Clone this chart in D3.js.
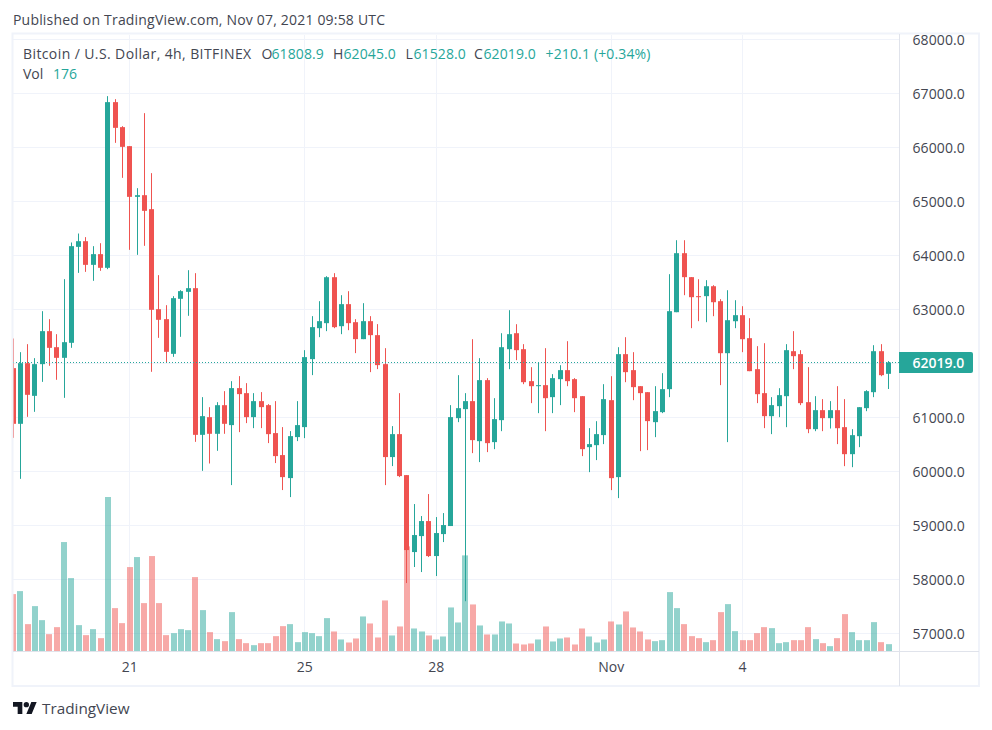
<!DOCTYPE html>
<html>
<head>
<meta charset="utf-8">
<script src="https://cdn.jsdelivr.net/npm/d3@7"></script>
<style>
  html, body { margin: 0; padding: 0; background: #fff; }
  svg { display: block; }
  text { font-family: "Open Sans", sans-serif; }
</style>
</head>
<body>
<div id="chart"></div>
<script>
// 4h candles
const opens = [61914,60883,62006,61401,61988,62599,62302,62105,62383,64160,64265,63827,64025,63772,66840,66377,66025,65086,65117,64858,63006,62821,62179,63198,63327,63395,60679,61006,60698,61228,
  60859,61544,61451,61007,61303,61229,60711,60304,59878,60637,60822,62081,62654,62747,63598,62691,63099,62765,62451,62784,62525,61988,60267,60692,59933,58508,58804,59082,58434,58841,
  58990,60988,61155,61303,60562,61692,60544,60951,62265,62561,62265,61673,61580,61599,61377,61710,61877,61710,61395,60451,60488,60674,61321,59896,62173,61877,61580,61469,60914,61099,
  61525,62950,64043,63599,63247,63247,63431,63154,62191,62783,62895,62469,61895,61451,61025,61210,61395,62228,62173,61284,60784,61136,60988,61136,60821,60321,60654,61173,61469,62228,61808.9];
const highs = [62463,62210,62358,62099,62969,62821,62543,63562,64241,64407,64340,64173,64228,66951,66895,66395,66025,65247,66636,65525,63636,63080,63247,63358,63728,63673,61377,61191,61284,61488,
  61673,61766,61636,61451,61470,61248,61303,60822,60748,61303,62247,62877,63154,63617,63673,63265,63339,62821,63117,62877,62729,62284,60840,61451,59933,59397,59175,59582,59156,59230,
  61229,61784,61451,62450,62099,61729,61358,62561,62987,62728,62358,61932,62019,62284,61803,61969,62413,61729,61395,60803,60932,61617,61765,62302,62487,62210,61580,61469,61580,61821,
  63654,64283,64283,63599,63561,63543,63450,63191,63357,63172,63061,62839,62321,62376,61377,61543,62358,62599,62247,61932,61395,61340,61303,61580,61340,60784,61191,61506,62339,62358,62045];
const lows = [60623,59864,61012,61105,61660,61957,61698,61364,62290,63678,63697,63531,63716,63747,66086,65438,64105,64012,64179,61846,62475,62019,62123,62494,62883,60549,60012,60148,60383,60698,
  59748,60729,60896,60803,60803,60526,60156,59656,59526,60563,60618,61785,62488,62599,62654,62543,62617,62192,62451,61840,61896,59748,60100,59896,57934,58231,58138,58416,58064,58693,
  58990,60914,57598,60340,60174,60359,60414,60747,61895,62062,61617,61266,61081,60747,61081,61229,61580,61099,60285,59988,60211,60507,59655,59507,61654,61321,60377,60396,60636,61081,
  61377,62950,63265,62654,62784,62765,62876,61599,60544,62654,62210,61858,61266,60803,60692,61006,60821,61895,61229,60710,60747,60747,60796,60507,60099,60080,60451,61117,61377,61765,61528];
const closes = [60883,62006,61420,61988,62599,62290,62105,62395,64173,64265,63827,64025,63772,66840,66364,66012,65086,65117,64827,62994,62809,62216,63210,63340,63395,60679,61025,60698,61228,60883,
  61544,61433,61007,61303,61192,60692,60285,59896,60655,60859,62118,62673,62784,63598,62673,63099,62747,62451,62784,62525,61970,60267,60692,59915,58545,58823,59082,58434,58860,59008,
  61007,61173,61303,60581,61692,60525,60970,62302,62543,62247,61654,61580,61599,61358,61729,61877,61673,61358,60414,60507,60692,61340,59877,62173,61840,61562,61451,60933,61118,61525,
  62969,64043,63599,63228,63228,63431,63135,62191,62802,62895,62450,61858,61432,61025,61229,61414,62247,62136,61266,60784,61136,60988,61136,60802,60321,60673,61191,61488,62228,61784,62019];
const volumes = [1376,1448,656,1088,752,416,584,2624,1760,632,392,536,320,3704,1040,680,2024,2264,1160,2288,1160,392,440,536,512,1784,992,464,296,248,
  944,296,200,152,200,200,368,608,656,224,464,440,368,800,480,288,216,312,840,672,336,1224,384,600,2520,552,480,384,288,360,
  1056,696,2304,1128,624,408,408,720,672,192,168,192,288,600,240,312,336,168,552,360,216,288,720,648,960,576,480,288,248,272,
  1424,1040,656,368,320,224,272,944,1136,488,272,272,440,584,560,200,224,272,272,584,296,200,128,320,896,464,272,272,704,224,176];

const priceTicks = [68000,67000,66000,65000,64000,63000,62000,61000,60000,59000,58000,57000];
const timeTickBars = [16,40,58,82,100];
const timeTickLabels = ["21","25","28","Nov","4"];
const lastPrice = 62019;

const UP = "#26a69a", DOWN = "#ef5350", GRID = "#f0f3fa", AXIS = "#e0e3eb", INK = "#434651";

const width = 992, height = 730;
const plot = { left: 13, right: 899, top: 35, bottom: 651.5 };

const svg = d3.select("#chart").append("svg")
    .attr("width", width)
    .attr("height", height);

const x = d3.scaleLinear().domain([0, closes.length - 1]).range([13, 888.5]);
const y = d3.scaleLinear().domain([67000, 57000]).range([93.5, 633.5]);
const volY = d3.scaleLinear().domain([0, 3704]).range([651.5, 497]);

const snap = v => Math.floor(v) + 0.5;

// grid
svg.append("g").selectAll("line").data(priceTicks).enter().append("line")
    .attr("x1", plot.left).attr("x2", plot.right)
    .attr("y1", d => snap(y(d))).attr("y2", d => snap(y(d)))
    .attr("stroke", GRID);
svg.append("g").selectAll("line").data(timeTickBars).enter().append("line")
    .attr("x1", d => snap(x(d))).attr("x2", d => snap(x(d)))
    .attr("y1", plot.top).attr("y2", plot.bottom)
    .attr("stroke", GRID);

const plotArea = svg.append("g").attr("clip-path", "url(#plotClip)");
svg.append("clipPath").attr("id", "plotClip").append("rect")
    .attr("x", plot.left).attr("y", plot.top)
    .attr("width", plot.right - plot.left).attr("height", plot.bottom - plot.top);

const bars = d3.range(closes.length);
const colour = i => closes[i] >= opens[i] ? UP : DOWN;

// volume
plotArea.append("g").selectAll("rect").data(bars).enter().append("rect")
    .attr("x", i => Math.round(x(i) - 3))
    .attr("width", 6)
    .attr("y", i => volY(volumes[i]))
    .attr("height", i => volY(0) - volY(volumes[i]))
    .attr("fill", colour)
    .attr("opacity", 0.5);

// last price line
svg.append("line")
    .attr("x1", plot.left).attr("x2", plot.right)
    .attr("y1", snap(y(lastPrice))).attr("y2", snap(y(lastPrice)))
    .attr("stroke", UP).attr("stroke-dasharray", "1 2");

// candles
let candle = plotArea.append("g").selectAll("g").data(bars).enter().append("g");
candle.append("line")
    .attr("x1", i => snap(x(i))).attr("x2", i => snap(x(i)))
    .attr("y1", i => y(highs[i])).attr("y2", i => y(lows[i]))
    .attr("stroke", colour);
candle.append("rect")
    .attr("x", i => Math.floor(x(i)) - 2)
    .attr("width", 5)
    .attr("y", i => y(Math.max(opens[i], closes[i])))
    .attr("height", i => Math.max(1, Math.abs(y(opens[i]) - y(closes[i]))))
    .attr("fill", colour);

// frame
svg.append("rect")
    .attr("x", 12.5).attr("y", 33.5)
    .attr("width", 966.5).attr("height", 652.5)
    .attr("fill", "none").attr("stroke", GRID).attr("stroke-width", 2);
svg.append("line").attr("x1", 13).attr("x2", 979).attr("y1", 651.5).attr("y2", 651.5).attr("stroke", AXIS);
svg.append("line").attr("x1", 899.5).attr("x2", 899.5).attr("y1", 34).attr("y2", 686).attr("stroke", AXIS);

// axes
const priceAxis = svg.append("g")
    .attr("transform", "translate(900,1)")
    .call(d3.axisRight(y).tickValues(priceTicks).tickSize(0).tickPadding(12.5).tickFormat(d => d.toFixed(1)));
priceAxis.select(".domain").remove();
priceAxis.selectAll("text").attr("fill", INK).style("font-size", "14px").style("font-family", '"Open Sans", sans-serif').style("letter-spacing", "0.1px");

const timeAxis = svg.append("g")
    .attr("transform", "translate(-0.5,653)")
    .call(d3.axisBottom(x).tickValues(timeTickBars).tickSize(0).tickPadding(9).tickFormat((d, i) => timeTickLabels[i]));
timeAxis.select(".domain").remove();
timeAxis.selectAll("text").attr("fill", INK).style("font-size", "14px").style("font-family", '"Open Sans", sans-serif');

// last price tag
svg.append("path")
    .attr("d", "M899,352H971a2,2 0 0 1 2,2V371a2,2 0 0 1 -2,2H899Z")
    .attr("fill", UP);
svg.append("text").attr("x", 912.5).attr("y", y(lastPrice) + 6)
    .attr("fill", "#fff").attr("font-size", 14).attr("font-weight", 600)
    .text(lastPrice.toFixed(1));

// header
const label = (px, py, s, fill, size, spacing) => svg.append("text")
    .attr("x", px).attr("y", py).attr("fill", fill).attr("font-size", size || 14)
    .style("letter-spacing", (spacing || 0) + "px").text(s);

label(13, 25, "Published on TradingView.com, Nov 07, 2021 09:58 UTC", INK, 14, 0.19);
label(23, 59, "Bitcoin / U.S. Dollar, 4h, BITFINEX", INK, 14, 0.4);
label(261.5, 59, "O", INK);
label(271.5, 59, "61808.9", UP, 14, 0.1);
label(333, 59, "H", INK);
label(343.5, 59, "62045.0", UP, 14, 0.1);
label(405.5, 59, "L", INK);
label(413.5, 59, "61528.0", UP, 14, 0.1);
label(474, 59, "C", INK);
label(483.5, 59, "62019.0", UP, 14, 0.1);
label(545.5, 59, "+210.1 (+0.34%)", UP, 14, 0.15);
label(23, 79, "Vol", INK);
label(53, 79, "176", UP);

// logo and footer
svg.append("path")
    .attr("transform", "translate(13,699.3) scale(0.667)")
    .attr("d", "M14 22H7V11H0V4h14v18zM28 22h-8l7.5-18h8L28 22z")
    .attr("fill", "#131722");
svg.append("circle")
    .attr("transform", "translate(13,699.3) scale(0.667)")
    .attr("cx", 20).attr("cy", 8).attr("r", 4).attr("fill", "#131722");
label(42, 714, "TradingView", INK, 15.3);
</script>
</body>
</html>
